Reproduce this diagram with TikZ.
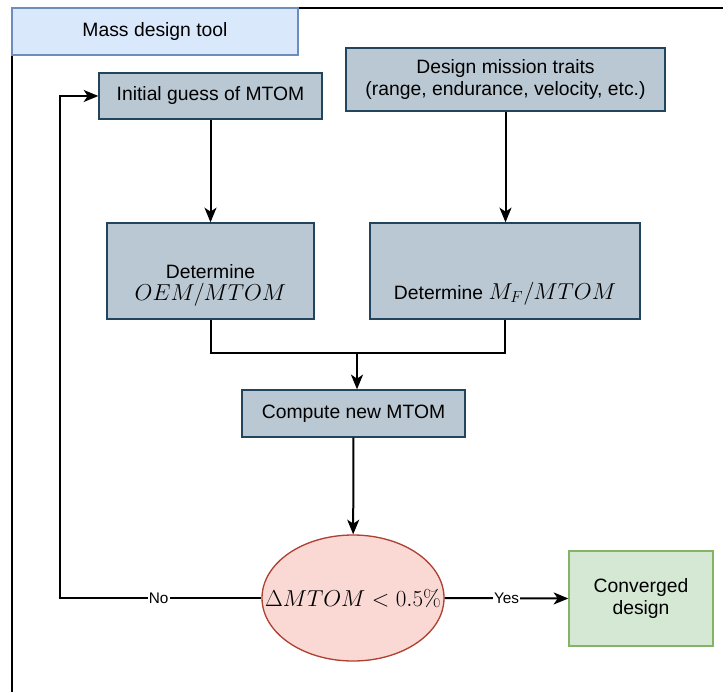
\documentclass[tikz,border=0pt]{standalone}
\usepackage[no-math]{fontspec}
\setmainfont{Liberation Sans}
\usepackage{tikz}
\usetikzlibrary{shapes.geometric, arrows.meta, positioning}
\definecolor{toolblue}{HTML}{DAE8FC}
\definecolor{toolline}{HTML}{6C8EBF}
\definecolor{stepgrey}{HTML}{BAC8D3}
\definecolor{stepline}{HTML}{23445D}
\definecolor{checkred}{HTML}{FAD9D5}
\definecolor{checkline}{HTML}{AE4132}
\definecolor{donegreen}{HTML}{D5E8D4}
\definecolor{doneline}{HTML}{82B366}
\newcommand{\bigmath}[1]{{\fontsize{17pt}{20pt}\selectfont$#1$}}

\begin{document}
\begin{tikzpicture}[
    x=0.75pt, y=-0.75pt,
    every node/.style={align=center, font=\fontsize{14.5pt}{17pt}\selectfont},
    stepbox/.style={rectangle, draw=stepline, fill=stepgrey, line width=1pt, inner sep=0pt},
    arrow/.style={line width=1.5pt, -{Stealth[length=11pt, width=9pt, inset=3pt]}},
    link/.style={line width=1.5pt},
    answer/.style={fill=white, inner sep=1pt, font=\fontsize{11.5pt}{13pt}\selectfont}
]
    \useasboundingbox (0,0) rectangle (723,691);
    \clip (0,0) rectangle (723,691);
    % outer frame of the tool
    \draw[line width=1.4pt] (12,8) rectangle (740,710);
    \node[rectangle, draw=toolline, fill=toolblue, line width=1pt, minimum width=214.5pt, minimum height=35.25pt, inner sep=0pt] (tool) at (155,31.5) {Mass design tool};

    \node[stepbox, minimum width=167.25pt, minimum height=34.5pt] (guess) at (210.5,96) {Initial guess of MTOM};
    \node[stepbox, minimum width=239.25pt, minimum height=47.25pt] (traits) at (505.5,79.5) {Design mission traits\\(range, endurance, velocity, etc.)};
    \node[stepbox, minimum width=155.25pt, minimum height=72pt] (oem) at (210.5,271) {\raisebox{-14pt}[0pt][0pt]{\begin{tabular}{@{}c@{}}Determine\\[-2pt]\bigmath{OEM/MTOM}\end{tabular}}};
    \node[stepbox, minimum width=202.5pt, minimum height=72pt] (fuel) at (505,271) {\raisebox{-21pt}[0pt][0pt]{Determine \bigmath{M_F/MTOM}}};
    \node[stepbox, minimum width=167.25pt, minimum height=35.25pt] (newmtom) at (353.5,413.5) {Compute new MTOM};
    \node[ellipse, draw=checkline, fill=checkred, line width=1pt, minimum width=136.5pt, minimum height=94.5pt, inner sep=0pt] (check) at (353,598) {\makebox[0pt]{\bigmath{\Delta MTOM < 0.5\%}}};
    \node[rectangle, draw=doneline, fill=donegreen, line width=1pt, minimum width=108pt, minimum height=71.25pt, inner sep=0pt] (done) at (641,598.5) {Converged\\design};

    \coordinate (join) at (357,353);
    \coordinate (back) at (60,598);

    \draw[arrow] (guess) -- (oem);
    \draw[arrow] (traits.south) -- (traits.south |- fuel.north);
    \draw[link] (oem.south) |- (join) -| (fuel.south);
    \draw[arrow, line width=1.9pt] (join) -- (join |- newmtom.north);
    \draw[arrow] (newmtom) -- (check);
    \draw[arrow] (check.west) -- node[answer, pos=0.51] {No} (back) |- (guess.west);
    \draw[arrow] (check.east) -- node[answer] {Yes} (done.west);
\end{tikzpicture}
\end{document}
